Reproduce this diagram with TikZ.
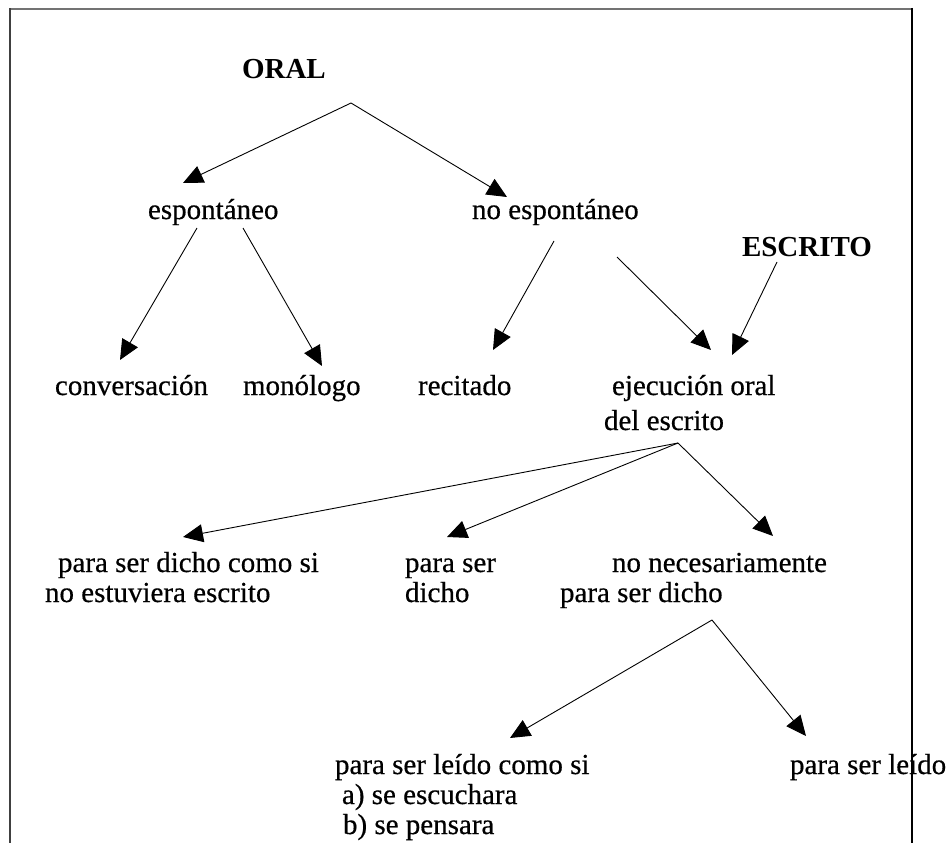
\documentclass[tikz,border=0pt]{standalone}
\usepackage{fontspec}
\setmainfont{Liberation Serif}[FakeBold=0.5,BoldFeatures={FakeBold=0}]
\usetikzlibrary{arrows.meta,calc}
\tikzset{
  txt/.style={anchor=base west,inner sep=0pt,outer sep=0pt,font=\fontsize{29}{30}\selectfont},
  bld/.style={txt,font=\fontsize{29}{30}\selectfont\bfseries},
  arr/.style={line width=0.9pt,-{Triangle[length=20pt,width=18pt]}},
}
\begin{document}
\begin{tikzpicture}[x=1pt,y=-1pt]
\useasboundingbox (0,0) rectangle (951,843);
\fill[white] (0,0) rectangle (951,843);
% frame
\draw[line width=2pt,black!55] (9,9) -- (913,9);
\draw[line width=2.2pt,black!75] (10,843) -- (10,8);
\draw[line width=1.3pt,black] (912,8) -- (912,843);
% nodes
\node[bld] (oral) at (242,78) {ORAL};
\node[txt] (esp) at (148,219) {espontáneo};
\node[txt] (noesp) at (472,219) {no espontáneo};
\node[bld] (escrito) at (742,256) {ESCRITO};
\node[txt] (conv) at (55,395) {conversación};
\node[txt] (mono) at (243,395) {monólogo};
\node[txt] (reci) at (418,395) {recitado};
\node[txt] (ejec) at (604,395) {\begin{tabular}[t]{@{}l@{}}\hspace*{8pt}ejecución oral\\[5pt]del escrito\end{tabular}};
\node[txt] (psd) at (45,572) {\begin{tabular}[t]{@{}l@{}}\hspace*{13pt}para ser dicho como si\\no estuviera escrito\end{tabular}};
\node[txt] (psd2) at (405,572) {\begin{tabular}[t]{@{}l@{}}para ser\\dicho\end{tabular}};
\node[txt] (nonec) at (560,572) {\begin{tabular}[t]{@{}l@{}}\hspace*{52pt}no necesariamente\\para ser dicho\end{tabular}};
\node[txt] (plc) at (335,774) {\begin{tabular}[t]{@{}l@{}}para ser leído como si\\\hspace*{7pt}a) se escuchara\\\hspace*{8pt}b) se pensara\end{tabular}};
\node[txt] (pl) at (790,774) {para ser leído};
% connectors
\draw[arr] ($(oral.base west)+(109,25)$) -- ($(esp.base west)+(35,-36)$);
\draw[arr] ($(oral.base west)+(109,25)$) -- ($(noesp.base west)+(35,-22)$);
\draw[arr] ($(esp.base west)+(49,9)$) -- ($(conv.base west)+(65,-35)$);
\draw[arr] ($(esp.base west)+(95,9)$) -- ($(mono.base west)+(79,-29)$);
\draw[arr] ($(noesp.base west)+(82,22)$) -- ($(reci.base west)+(75,-45)$);
\draw[arr] ($(noesp.base west)+(145,38)$) -- ($(ejec.base west)+(107,-45)$);
\draw[arr] ($(escrito.base west)+(35,6)$) -- ($(ejec.base west)+(128,-40)$);
\draw[arr] ($(ejec.base west)+(74,48)$) -- ($(psd.base west)+(138,-35)$);
\draw[arr] ($(ejec.base west)+(74,48)$) -- ($(psd2.base west)+(42,-35)$);
\draw[arr] ($(ejec.base west)+(74,48)$) -- ($(nonec.base west)+(213,-36)$);
\draw[arr] ($(nonec.base west)+(152,48)$) -- ($(plc.base west)+(175,-36)$);
\draw[arr] ($(nonec.base west)+(152,48)$) -- ($(pl.base west)+(16,-38)$);
\end{tikzpicture}
\end{document}
